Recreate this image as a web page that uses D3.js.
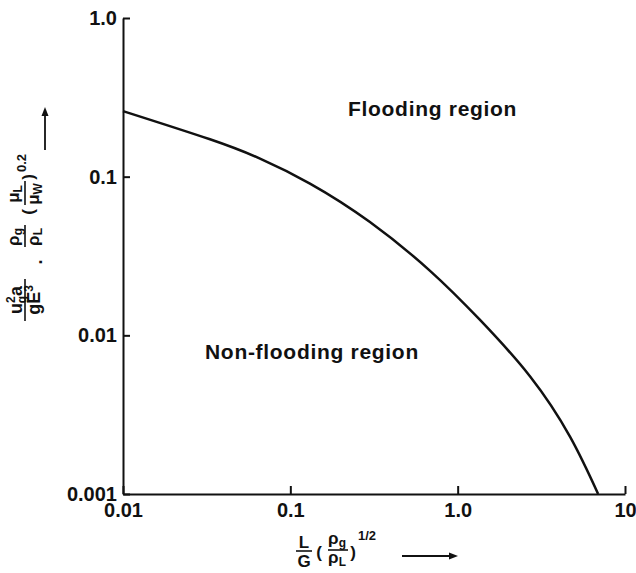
<!DOCTYPE html>
<html>
<head>
<meta charset="utf-8">
<script src="https://cdn.jsdelivr.net/npm/d3@7"></script>
<style>
  body { margin: 0; background: #fff; }
  text { font-family: "Liberation Sans", Arial, Helvetica, sans-serif; font-weight: bold; fill: #111; }
</style>
</head>
<body>
<script>
const xTicks = [0.01, 0.1, 1, 10];
const xTickLabels = ["0.01", "0.1", "1.0", "10"];
const yTicks = [0.001, 0.01, 0.1, 1];
const yTickLabels = ["0.001", "0.01", "0.1", "1.0"];

// flooding line
const curveX = [0.01, 0.0331, 0.0659, 0.131, 0.299, 0.684, 1.36, 2.71, 4.70, 6.91];
const curveY = [0.259, 0.172, 0.130, 0.0905, 0.0518, 0.0255, 0.0125, 0.0055, 0.00229, 0.001];

function main() {
  const width = 636, height = 573;
  const ink = "#111";

  const svg = d3.select("body").append("svg")
    .attr("width", width)
    .attr("height", height);

  const x = d3.scaleLog().domain([0.01, 10]).range([123, 625]);
  const y = d3.scaleLog().domain([0.001, 1]).range([494, 18]);

  const xAxis = d3.axisBottom(x)
    .tickValues(xTicks)
    .tickFormat((d, i) => xTickLabels[i])
    .tickSizeInner(-8).tickSizeOuter(0).tickPadding(9);

  const yAxis = d3.axisLeft(y)
    .tickValues(yTicks)
    .tickFormat((d, i) => yTickLabels[i])
    .tickSizeInner(-7).tickSizeOuter(0).tickPadding(6);

  const gx = svg.append("g").attr("transform", `translate(0,${y(0.001)})`).call(xAxis);
  const gy = svg.append("g").attr("transform", `translate(${x(0.01)},0)`).call(yAxis);

  [gx, gy].forEach(g => {
    g.attr("font-size", null).attr("font-family", null);
    g.selectAll("path, line").attr("stroke", ink).attr("stroke-width", 2);
    g.selectAll("text").attr("font-size", 20).attr("fill", ink);
  });

  const line = d3.line()
    .x(d => x(d[0]))
    .y(d => y(d[1]))
    .curve(d3.curveNatural);

  svg.append("path")
    .datum(curveX.map((v, i) => [v, curveY[i]]))
    .attr("d", line)
    .attr("fill", "none")
    .attr("stroke", ink)
    .attr("stroke-width", 2.5);

  svg.append("text").attr("x", 348).attr("y", 116).attr("font-size", 21)
    .attr("letter-spacing", 0.7).text("Flooding region");
  svg.append("text").attr("x", 205).attr("y", 359).attr("font-size", 21)
    .attr("letter-spacing", 0.7).text("Non-flooding region");

  // small helpers for the formula labels
  function sym(g, tx, ty, main, sub, size) {
    const t = g.append("text").attr("x", tx).attr("y", ty).attr("font-size", size)
      .attr("text-anchor", "middle").text(main);
    if (sub) t.append("tspan").attr("dy", 3).attr("font-size", size * 0.7).text(sub);
    return t;
  }

  function frac(g, cx, barY, w, num, den, gap) {
    g.append("line").attr("x1", cx - w / 2).attr("x2", cx + w / 2)
      .attr("y1", barY).attr("y2", barY).attr("stroke", ink).attr("stroke-width", 1.6);
    num(g, cx, barY - 3);
    den(g, cx, barY + (gap || 16));
  }

  function arrow(g, x1, y1, x2, y2) {
    const a = Math.atan2(y2 - y1, x2 - x1), L = 9, W = 3.5;
    g.append("line").attr("x1", x1).attr("y1", y1).attr("x2", x2 - L * Math.cos(a)).attr("y2", y2 - L * Math.sin(a))
      .attr("stroke", ink).attr("stroke-width", 1.8);
    const p = d3.path();
    p.moveTo(x2, y2);
    p.lineTo(x2 - L * Math.cos(a) - W * Math.sin(a), y2 - L * Math.sin(a) + W * Math.cos(a));
    p.lineTo(x2 - L * Math.cos(a) + W * Math.sin(a), y2 - L * Math.sin(a) - W * Math.cos(a));
    p.closePath();
    g.append("path").attr("d", p.toString()).attr("fill", ink);
  }

  // x axis title: L/G (rho_g/rho_L)^1/2 ->
  const xl = svg.append("g");
  frac(xl, 304, 551, 16,
    (g, cx, by) => sym(g, cx, by, "L", null, 17),
    (g, cx, by) => sym(g, cx, by, "G", null, 17), 16);
  xl.append("text").attr("x", 319).attr("y", 558).attr("font-size", 17).attr("text-anchor", "middle").text("(");
  frac(xl, 338, 550, 20,
    (g, cx, by) => sym(g, cx - 1, by - 3, "ρ", "g", 17),
    (g, cx, by) => sym(g, cx - 1, by - 3, "ρ", "L", 17), 16);
  xl.append("text").attr("x", 353).attr("y", 558).attr("font-size", 17).attr("text-anchor", "middle").text(")");
  xl.append("text").attr("x", 358).attr("y", 540).attr("font-size", 13).text("1/2");
  arrow(xl, 402, 556, 458, 556);

  // y axis title, rotated; local x = -screenY, local y = screenX
  const yl = svg.append("g").attr("transform", "rotate(-90)");
  frac(yl, -300, 25, 42,
    (g, cx, by) => {
      const t = g.append("text").attr("x", cx).attr("y", by).attr("font-size", 18).attr("text-anchor", "middle");
      t.append("tspan").text("u");
      t.append("tspan").attr("dy", -7).attr("font-size", 12).text("2");
      t.append("tspan").attr("dx", -7).attr("dy", 11).attr("font-size", 12).text("g");
      t.append("tspan").attr("dy", -4).text("a");
    },
    (g, cx, by) => {
      const t = g.append("text").attr("x", cx).attr("y", by - 1).attr("font-size", 18).attr("text-anchor", "middle");
      t.append("tspan").text("gE");
      t.append("tspan").attr("dy", -7).attr("font-size", 12).text("3");
    });
  yl.append("text").attr("x", -262).attr("y", 42).attr("font-size", 18).attr("text-anchor", "middle").text(".");
  frac(yl, -236, 25, 22,
    (g, cx, by) => sym(g, cx - 1, by - 3, "ρ", "g", 17),
    (g, cx, by) => sym(g, cx - 1, by - 2, "ρ", "L", 17));
  yl.append("text").attr("x", -212).attr("y", 34).attr("font-size", 17).attr("text-anchor", "middle").text("(");
  frac(yl, -193, 25, 24,
    (g, cx, by) => sym(g, cx - 1, by - 3, "μ", "L", 17),
    (g, cx, by) => sym(g, cx - 1, by - 2, "μ", "W", 17));
  yl.append("text").attr("x", -177).attr("y", 34).attr("font-size", 17).attr("text-anchor", "middle").text(")");
  yl.append("text").attr("x", -172).attr("y", 26).attr("font-size", 13).text("0.2");
  arrow(svg, 45, 150, 45, 107);
}

window.addEventListener("load", main);
</script>
</body>
</html>
